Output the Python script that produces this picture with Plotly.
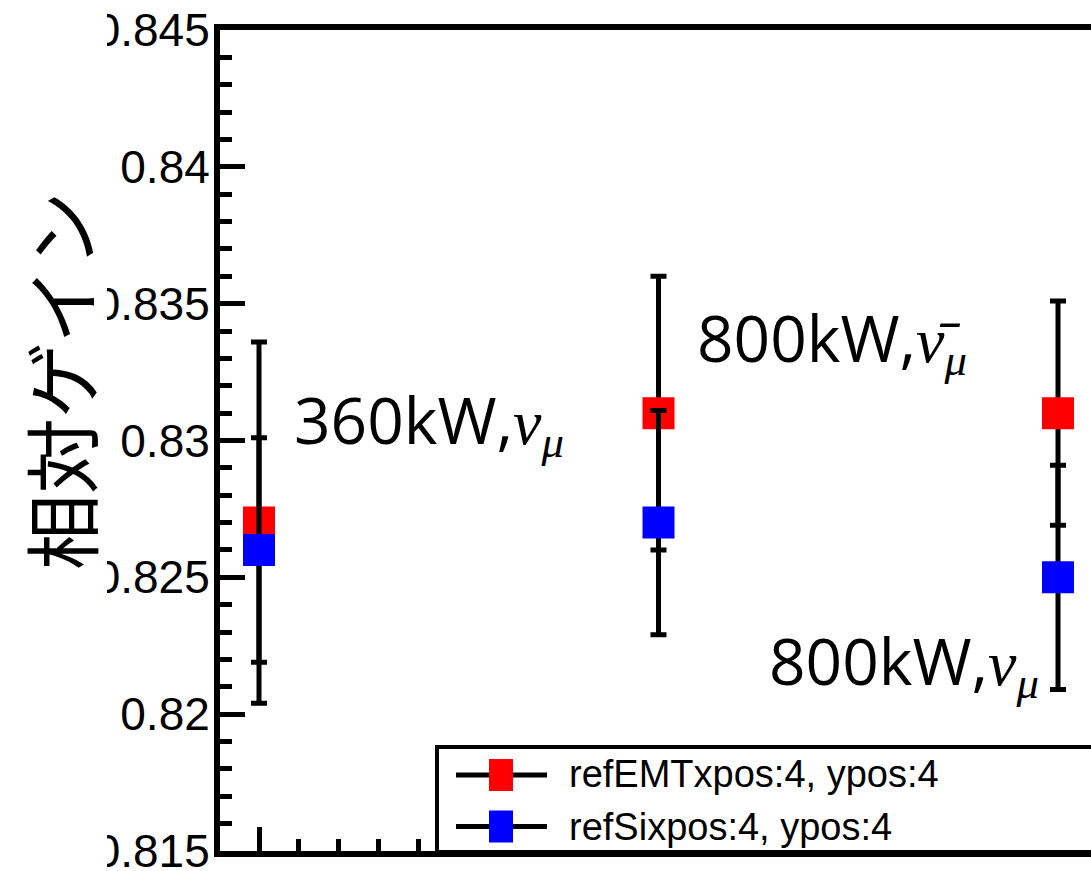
import plotly.graph_objects as go

# ---- data ----
x_pos = [1, 2, 3]
point_labels = ["360kW,", "800kW,", "800kW,"]
emt_y = [0.827, 0.831, 0.831]
emt_err = [0.0066, 0.0050, 0.0041]
si_y = [0.826, 0.827, 0.825]
si_err = [0.0041, 0.0041, 0.0041]
series_names = ["refEMTxpos:4, ypos:4", "refSixpos:4, ypos:4"]
y_tickvals = [0.815, 0.82, 0.825, 0.83, 0.835, 0.84, 0.845]
y_ticktext = ["0.815", "0.82", "0.825", "0.83", "0.835", "0.84", "0.845"]
y_title = "相対ゲイン"

W, H = 1091, 871
L, T, B, R = 220, 30, 20, 0
PW, PH = W - L - R, H - T - B


def px(xp):
    return (xp - L) / PW


def py(yp):
    return (H - B - yp) / PH


fig = go.Figure()
for yv, ev, col, nm in [(emt_y, emt_err, "#ff0000", series_names[0]),
                        (si_y, si_err, "#0000ff", series_names[1])]:
    fig.add_trace(go.Scatter(
        x=x_pos, y=yv, mode="markers", name=nm, showlegend=False,
        marker=dict(symbol="square", size=32, color=col, line=dict(width=0)),
        error_y=dict(type="data", array=ev, visible=True, color="black",
                     thickness=5, width=8),
    ))

serif = "font-family:'Liberation Serif','Times New Roman',serif"
nu = f"<span style=\"{serif}\"><i>ν</i><sub><i>μ</i></sub></span>"
nubar = f"<span style=\"{serif}\"><i>ν̄</i><sub><i>μ</i></sub></span>"
label_texts = [point_labels[0] + nu, point_labels[1] + nubar, point_labels[2] + nu]
label_pos = [(1.0826, 0.8307), (2.0914, 0.8337), (2.2716, 0.8219)]
for t, (lx, ly) in zip(label_texts, label_pos):
    fig.add_annotation(x=lx, y=ly, xref="x", yref="y", text=t, showarrow=False,
                       xanchor="left", yanchor="middle",
                       font=dict(family="Open Sans", size=64, color="black"))

shapes = []
# white mask clipping the leading digit of wide tick labels
shapes.append(dict(type="rect", xref="paper", yref="paper", x0=px(-5), x1=px(107),
                   y0=py(880), y1=py(-5), fillcolor="white", line=dict(width=0),
                   layer="above"))
# legend box
shapes.append(dict(type="rect", xref="paper", yref="paper", x0=px(437), x1=px(1110),
                   y0=py(852), y1=py(747), fillcolor="white",
                   line=dict(color="black", width=4), layer="above"))
for yc, col in [(775, "#ff0000"), (826.5, "#0000ff")]:
    shapes.append(dict(type="line", xref="paper", yref="paper", x0=px(456), x1=px(547),
                       y0=py(yc), y1=py(yc), line=dict(color="black", width=5),
                       layer="above"))
    shapes.append(dict(type="rect", xref="paper", yref="paper", x0=px(489), x1=px(513),
                       y0=py(yc + 16), y1=py(yc - 16), fillcolor=col,
                       line=dict(width=0), layer="above"))
fig.update_layout(shapes=shapes)

for yc, nm in [(774, series_names[0]), (827, series_names[1])]:
    fig.add_annotation(x=px(567), y=py(yc), xref="paper", yref="paper", text=nm,
                       showarrow=False, xanchor="left", yanchor="middle",
                       font=dict(family="Liberation Sans", size=38, color="black"))

fig.add_annotation(x=px(59), y=py(381), xref="paper", yref="paper", text=y_title,
                   textangle=-90, showarrow=False, xanchor="center", yanchor="middle",
                   font=dict(family="Noto Sans CJK JP", size=76, color="black"))

x_lo = 1 - (259 - L) / 399.5
x_hi = 1 + (W - R - 259) / 399.5
fig.update_xaxes(range=[x_lo, x_hi], showgrid=False, zeroline=False, automargin=False,
                 showline=True, linewidth=6, linecolor="black", mirror=True,
                 ticks="inside", tickmode="linear", tick0=1, dtick=0.5,
                 ticklen=24, tickwidth=5, tickcolor="black", showticklabels=False,
                 minor=dict(ticks="inside", tick0=1, dtick=0.1, ticklen=12,
                            tickwidth=5, tickcolor="black", showgrid=False))
fig.update_yaxes(range=[0.815, 0.845], showgrid=False, zeroline=False, automargin=False,
                 showline=True, linewidth=6, linecolor="black", mirror=False,
                 ticks="inside", tickmode="array", tickvals=y_tickvals,
                 ticktext=y_ticktext, ticklen=25, tickwidth=5, tickcolor="black",
                 ticklabeloverflow="allow", ticklabelstandoff=-5,
                 tickfont=dict(family="Liberation Sans", size=46, color="black"),
                 minor=dict(ticks="inside", tick0=0.815, dtick=0.001, ticklen=12,
                            tickwidth=5, tickcolor="black", showgrid=False))
fig.update_layout(width=W, height=H, margin=dict(l=L, r=R, t=T, b=B, pad=0),
                  paper_bgcolor="white", plot_bgcolor="white", showlegend=False)
fig.write_html("out.html")
